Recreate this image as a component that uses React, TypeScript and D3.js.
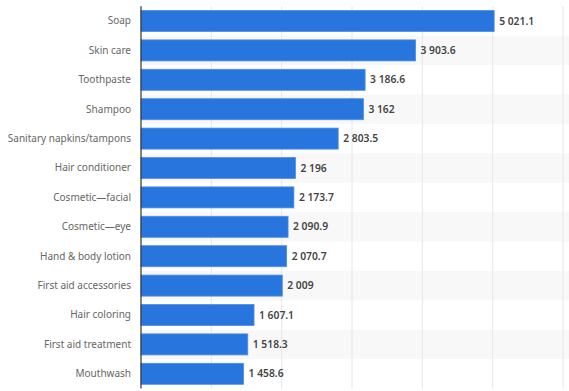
import React, { useEffect, useRef } from 'react';
import * as d3 from 'd3';

const categories = [
  'Soap', 'Skin care', 'Toothpaste', 'Shampoo', 'Sanitary napkins/tampons',
  'Hair conditioner', 'Cosmetic\u2014facial', 'Cosmetic\u2014eye', 'Hand & body lotion',
  'First aid accessories', 'Hair coloring', 'First aid treatment', 'Mouthwash',
];
const values = [5021.1, 3903.6, 3186.6, 3162, 2803.5, 2196, 2173.7, 2090.9, 2070.7, 2009, 1607.1, 1518.3, 1458.6];
const xTicks = [0, 1000, 2000, 3000, 4000, 5000, 6000];

const fmt = (v: number) => {
  const [i, dec] = v.toString().split('.');
  const int = i.replace(/\B(?=(\d{3})+(?!\d))/g, ' ');
  return dec ? `${int}.${dec}` : int;
};

const App: React.FC = () => {
  const svgRef = useRef<SVGSVGElement>(null);

  useEffect(() => {
    if (!svgRef.current) return;
    const svg = d3.select(svgRef.current);
    svg.selectAll('*').remove();

    const width = 569;
    const margin = { top: 6.3, right: 6, bottom: 3, left: 141 };
    const innerHeight = 382.2;
    const font = '"Noto Sans", "Liberation Sans", sans-serif';

    const g = svg.append('g').attr('transform', `translate(${margin.left},${margin.top})`);

    const y = d3.scaleBand().domain(categories).range([0, innerHeight]).paddingInner(0.285).paddingOuter(0.1425);
    const x = d3.scaleLinear().domain([0, 6000]).range([0, 422]);
    const step = y.step();

    // Striped rows
    g.selectAll('.stripe')
      .data(categories.filter((_, i) => i % 2 === 1))
      .enter()
      .append('rect')
      .attr('x', 0)
      .attr('y', d => y(d)! - (step - y.bandwidth()) / 2)
      .attr('width', width - margin.left)
      .attr('height', step)
      .attr('fill', '#f8f8f8');

    // Gridlines
    g.selectAll('.grid')
      .data(xTicks.slice(1))
      .enter()
      .append('line')
      .attr('x1', d => x(d))
      .attr('x2', d => x(d))
      .attr('y1', 0)
      .attr('y2', innerHeight)
      .attr('stroke', '#e6e6e6')
      .attr('stroke-width', 1);

    // Bars
    g.selectAll('.bar')
      .data(values)
      .enter()
      .append('rect')
      .attr('x', 0)
      .attr('y', (_, i) => y(categories[i])!)
      .attr('width', d => x(d))
      .attr('height', y.bandwidth())
      .attr('fill', '#2876dd')
      .attr('stroke', '#4a8ee8')
      .attr('stroke-width', 0.8);

    // Value labels
    g.selectAll('.val')
      .data(values)
      .enter()
      .append('text')
      .attr('x', d => x(d) + 5)
      .attr('y', (_, i) => y(categories[i])! + y.bandwidth() / 2)
      .attr('dy', '.35em')
      .attr('font-family', font)
      .attr('font-size', '10.3px')
      .attr('font-weight', 600)
      .attr('fill', '#444')
      .text(d => fmt(d));

    // Category labels
    g.selectAll('.cat')
      .data(categories)
      .enter()
      .append('text')
      .attr('x', -10)
      .attr('y', d => y(d)! + y.bandwidth() / 2)
      .attr('dy', '.35em')
      .attr('text-anchor', 'end')
      .attr('font-family', font)
      .attr('font-size', '10px')
      .attr('fill', '#666')
      .text(d => d);

    // Axis line
    g.append('line')
      .attr('x1', 0)
      .attr('x2', 0)
      .attr('y1', 0)
      .attr('y2', innerHeight)
      .attr('stroke', '#333')
      .attr('stroke-width', 1.2);
  }, []);

  return (
    <svg ref={svgRef} width={569} height={391}
      style={{ position: 'absolute', left: 0, top: 0, background: '#fff' }} />
  );
};

export default App;
